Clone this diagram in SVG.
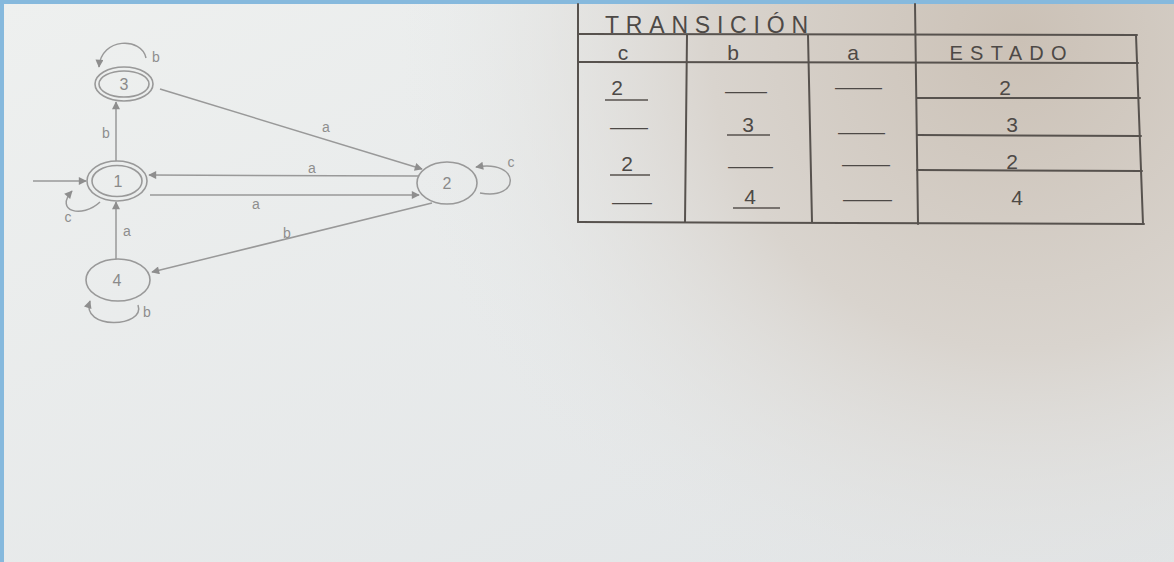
<svg xmlns="http://www.w3.org/2000/svg" width="1174" height="562" viewBox="0 0 1174 562">
<defs>
<radialGradient id="warm" cx="1020" cy="40" r="620" gradientUnits="userSpaceOnUse">
<stop offset="0" stop-color="#cbc1b6"/>
<stop offset="0.5" stop-color="#d9d4ce"/>
<stop offset="1" stop-color="#e6e8e8" stop-opacity="0"/>
</radialGradient>
<linearGradient id="base" x1="0" y1="0" x2="1" y2="1">
<stop offset="0" stop-color="#eef0ef"/>
<stop offset="1" stop-color="#e1e4e6"/>
</linearGradient>
<marker id="arr" viewBox="0 0 10 10" refX="9" refY="5" markerWidth="10" markerHeight="8" markerUnits="userSpaceOnUse" orient="auto">
<path d="M0 0 L10 5 L0 10 Z" fill="#8e8e8e"/>
</marker>
<style>
.pen{fill:none;stroke:#999;stroke-width:1.5}
.st{fill:none;stroke:#999;stroke-width:1.6}
.lbl{font-family:"Liberation Sans",Arial,sans-serif;font-size:14px;fill:#8e8e8e;text-anchor:middle}
.nl{font-family:"Liberation Sans",Arial,sans-serif;font-size:16px;fill:#8a8a8a;text-anchor:middle}
.tl{fill:none;stroke:#57524e;stroke-width:2;stroke-linecap:round}
.tt{font-family:"Liberation Sans",Arial,sans-serif;font-size:21px;fill:#4d4946;text-anchor:middle}
.ul{fill:none;stroke:#57524e;stroke-width:1.6}
</style>
</defs>
<rect x="0" y="0" width="1174" height="562" fill="url(#base)"/>
<rect x="0" y="0" width="1174" height="562" fill="url(#warm)"/>
<rect x="0" y="0" width="1174" height="4" fill="#86b9dd"/>
<rect x="0" y="0" width="4" height="562" fill="#86b9dd"/>

<g id="node-3">
<ellipse class="st" cx="124" cy="84" rx="29" ry="17"/>
<ellipse class="st" cx="124" cy="84" rx="25" ry="13"/>
<text class="nl" x="124" y="90">3</text>
</g>
<g id="node-1">
<ellipse class="st" cx="117" cy="181" rx="30" ry="20"/>
<ellipse class="st" cx="117" cy="181" rx="25" ry="15.5"/>
<text class="nl" x="118" y="187">1</text>
</g>
<g id="node-4">
<ellipse class="st" cx="118" cy="280" rx="32" ry="21"/>
<text class="nl" x="117" y="286">4</text>
</g>
<g id="node-2">
<ellipse class="st" cx="447" cy="183" rx="30" ry="21"/>
<text class="nl" x="447" y="189">2</text>
</g>

<g id="connectors">
<path class="pen" d="M33 181 L86 181" marker-end="url(#arr)"/>
<path class="pen" d="M116 161 L116 102" marker-end="url(#arr)"/>
<text class="lbl" x="106" y="138">b</text>
<path class="pen" d="M116 259 L116 202" marker-end="url(#arr)"/>
<text class="lbl" x="127" y="236">a</text>
<path class="pen" d="M160 89 L422 169" marker-end="url(#arr)"/>
<text class="lbl" x="326" y="132">a</text>
<path class="pen" d="M418 176 L149 175" marker-end="url(#arr)"/>
<text class="lbl" x="312" y="173">a</text>
<path class="pen" d="M150 195 L419 195" marker-end="url(#arr)"/>
<text class="lbl" x="256" y="209">a</text>
<path class="pen" d="M432 203 L152 272" marker-end="url(#arr)"/>
<text class="lbl" x="287" y="238">b</text>
<path class="pen" d="M146 58 C142 37 101 37 99 67" marker-end="url(#arr)"/>
<text class="lbl" x="156" y="62">b</text>
<path class="pen" d="M100 202 C82 219 54 211 72 191" marker-end="url(#arr)"/>
<text class="lbl" x="68" y="222">c</text>
<path class="pen" d="M138 305 C146 328 80 330 90 301" marker-end="url(#arr)"/>
<text class="lbl" x="147" y="317">b</text>
<path class="pen" d="M480 193 C521 201 521 159 476 167" marker-end="url(#arr)"/>
<text class="lbl" x="511" y="167">c</text>
</g>

<g id="table">
<path class="tl" d="M578 4 L578 222"/>
<path class="tl" d="M578 34 L1137 35"/>
<path class="tl" d="M578 62 L1138 63"/>
<path class="tl" d="M687 35 L685 222"/>
<path class="tl" d="M808 35 L812 222"/>
<path class="tl" d="M915 4 L918 224"/>
<path class="tl" d="M1136 35 L1143 224"/>
<path class="tl" d="M578 222 L1144 224"/>
<path class="tl" d="M917 98 L1140 98"/>
<path class="tl" d="M917 135 L1141 136"/>
<path class="tl" d="M917 170 L1142 171"/>
<text class="tt" x="605" y="33" style="text-anchor:start;font-size:23px" textLength="203" lengthAdjust="spacing">TRANSICIÓN</text>
<text class="tt" x="623" y="60">c</text>
<text class="tt" x="733" y="60">b</text>
<text class="tt" x="853" y="60">a</text>
<text class="tt" x="1008" y="60" style="font-size:20px" textLength="117" lengthAdjust="spacing">ESTADO</text>

<text class="tt" x="617" y="95">2</text>
<path class="ul" d="M605 100 L648 100"/>
<text class="tt" x="725" y="97.5" style="text-anchor:start" textLength="42" lengthAdjust="spacingAndGlyphs">—</text>
<text class="tt" x="835" y="93.5" style="text-anchor:start" textLength="47" lengthAdjust="spacingAndGlyphs">—</text>
<text class="tt" x="1005" y="95">2</text>

<text class="tt" x="610" y="133.5" style="text-anchor:start" textLength="38" lengthAdjust="spacingAndGlyphs">—</text>
<text class="tt" x="748" y="132">3</text>
<path class="ul" d="M727 135 L770 135"/>
<text class="tt" x="838" y="138.5" style="text-anchor:start" textLength="47" lengthAdjust="spacingAndGlyphs">—</text>
<text class="tt" x="1012" y="132">3</text>

<text class="tt" x="627" y="171">2</text>
<path class="ul" d="M610 175 L650 175"/>
<text class="tt" x="728" y="172.5" style="text-anchor:start" textLength="45" lengthAdjust="spacingAndGlyphs">—</text>
<text class="tt" x="842" y="170.5" style="text-anchor:start" textLength="48" lengthAdjust="spacingAndGlyphs">—</text>
<text class="tt" x="1012" y="169">2</text>

<text class="tt" x="612" y="208.5" style="text-anchor:start" textLength="40" lengthAdjust="spacingAndGlyphs">—</text>
<text class="tt" x="750" y="204">4</text>
<path class="ul" d="M733 208 L780 208"/>
<text class="tt" x="843" y="205.5" style="text-anchor:start" textLength="49" lengthAdjust="spacingAndGlyphs">—</text>
<text class="tt" x="1017" y="205">4</text>
</g>
</svg>
